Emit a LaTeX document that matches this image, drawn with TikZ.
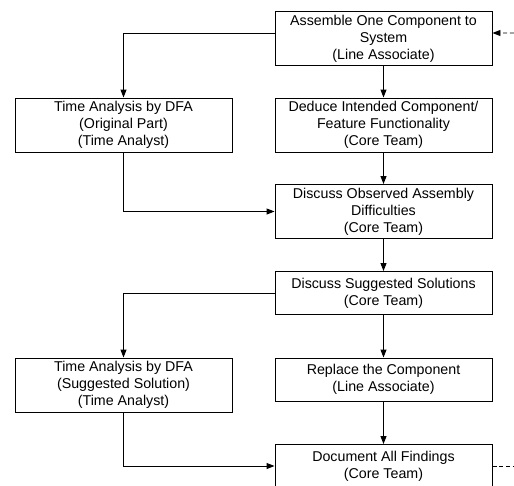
\documentclass[tikz,border=0pt]{standalone}
\usepackage{fontspec}
\setmainfont{Liberation Sans}
\usetikzlibrary{arrows.meta,positioning}

\begin{document}
\begin{tikzpicture}[
    box/.style={draw, rectangle, line width=0.55pt, minimum width=4.34cm, minimum height=0.86cm,
                inner sep=0pt, align=center, font=\fontsize{8.1}{9.7}\selectfont},
    tallbox/.style={box, minimum height=1.08cm},
    arrow/.style={-{Triangle[length=1.6mm, width=1.2mm]}, line width=0.55pt},
    feedback/.style={arrow, dash pattern=on 2.3pt off 1.6pt}
]
\useasboundingbox (0,0) rectangle (10.28,-9.7);

% Right column
\node[tallbox] (assemble) at (7.67,-0.77) {Assemble One Component to\\System\\(Line Associate)};
\node[tallbox] (deduce)   at (7.67,-2.50) {Deduce Intended Component/\\Feature Functionality\\(Core Team)};
\node[tallbox] (observed) at (7.67,-4.23) {Discuss Observed Assembly\\Difficulties\\(Core Team)};
\node[box]     (suggest)  at (7.67,-5.86) {Discuss Suggested Solutions\\(Core Team)};
\node[box]     (replace)  at (7.67,-7.59) {Replace the Component\\(Line Associate)};
\node[box]     (document) at (7.67,-9.32) {Document All Findings\\(Core Team)};

% Left column
\node[tallbox] (dfaorig) at (2.47,-2.50) {Time Analysis by DFA\\(Original Part)\\(Time Analyst)};
\node[tallbox] (dfasugg) at (2.47,-7.70) {Time Analysis by DFA\\(Suggested Solution)\\(Time Analyst)};

% Loose ends of the feedback loop
\coordinate (loopin)  at (10.28,-0.66);
\coordinate (loopout) at (10.28,-9.32);

% Main flow
\draw[arrow] (assemble) -- (deduce);
\draw[arrow] (deduce) -- (observed);
\draw[arrow] (observed) -- (suggest);
\draw[arrow] (suggest) -- (replace);
\draw[arrow] (replace) -- (document);

% Side branches
\draw[arrow] ([yshift=0.11cm]assemble.west) -| (dfaorig.north);
\draw[arrow] (dfaorig.south) |- (observed.west);
\draw[arrow] (suggest.west) -| (dfasugg.north);
\draw[arrow] (dfasugg.south) |- (document.west);

% Feedback
\draw[feedback] (loopin) -- ([yshift=0.11cm]assemble.east);
\draw[line width=0.55pt, dash pattern=on 2.3pt off 1.6pt] (document.east) -- (loopout);

\end{tikzpicture}
\end{document}
